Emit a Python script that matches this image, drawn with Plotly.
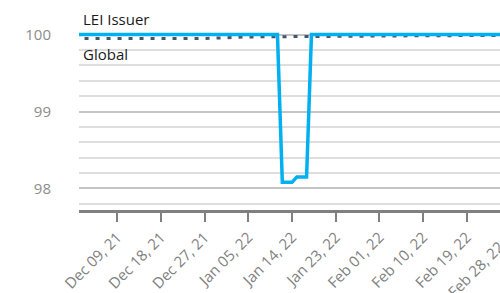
import plotly.graph_objects as go
import pandas as pd

# ---- data ----
lei_dates = ["2021-11-30", "2022-01-11", "2022-01-12", "2022-01-14", "2022-01-15",
             "2022-01-17", "2022-01-18", "2022-02-28"]
lei_values = [100, 100, 98.08, 98.08, 98.15, 98.15, 100, 100]

global_dates = ["2021-11-30", "2021-12-27", "2022-01-05", "2022-01-23", "2022-02-10", "2022-02-28"]
global_values = [99.95, 99.95, 99.97, 99.98, 99.985, 99.99]

tick_dates = ["2021-12-09", "2021-12-18", "2021-12-27", "2022-01-05", "2022-01-14",
              "2022-01-23", "2022-02-01", "2022-02-10", "2022-02-19", "2022-02-28"]

x_start = pd.Timestamp("2021-12-01 03:00")
x_end = pd.Timestamp("2022-02-25 20:00")

fig = go.Figure()
fig.add_trace(go.Scatter(x=global_dates, y=global_values, mode="lines",
                         line=dict(color="#44546a", width=3, dash="4px,7px"),
                         name="Global"))
fig.add_trace(go.Scatter(x=lei_dates, y=lei_values, mode="lines",
                         line=dict(color="#00b0f0", width=3.5),
                         name="LEI Issuer"))

in_range = [d for d in tick_dates if x_start <= pd.Timestamp(d) <= x_end]
out_range = [d for d in tick_dates if pd.Timestamp(d) > x_end]

grey = "#808080"
font_family = "Open Sans"

fig.update_layout(
    width=500, height=293,
    margin=dict(l=79, r=0, t=30, b=83),
    paper_bgcolor="white", plot_bgcolor="white",
    showlegend=False,
    font=dict(family=font_family),
    xaxis=dict(
        range=[x_start, x_end],
        automargin=False,
        tickvals=in_range,
        tickformat="%b %d, %y",
        tickangle=-45,
        tickfont=dict(size=15, color=grey, family=font_family),
        showgrid=False,
        showline=True, linecolor=grey, linewidth=2.5,
        ticks="outside", ticklen=9, tickwidth=2, tickcolor=grey,
        ticklabelstandoff=1,
        zeroline=False,
    ),
    yaxis=dict(
        range=[97.72, 100.06],
        automargin=False,
        tickvals=[98, 99, 100],
        tickfont=dict(size=15, color="#8c8c8c", family=font_family),
        showgrid=True, gridcolor="#c4c4c4", gridwidth=1.5,
        minor=dict(dtick=0.2, tick0=98, showgrid=True, gridcolor="#dedede", gridwidth=1.5),
        ticks="outside", ticklen=24, tickcolor="rgba(0,0,0,0)",
        showline=False, zeroline=False,
    ),
)

span = (x_end - x_start).total_seconds()
for d in out_range:
    px_ = (pd.Timestamp(d) - x_start).total_seconds() / span
    fig.add_annotation(x=px_, y=-0.135, xref="paper", yref="paper",
                       text=pd.Timestamp(d).strftime("%b %d, %y"), textangle=-45,
                       showarrow=False, xanchor="right", yanchor="top",
                       font=dict(size=15, color=grey, family=font_family))

fig.add_annotation(x=0.005, y=100.0, xref="paper", yref="y", text="LEI Issuer",
                   showarrow=False, xanchor="left", yanchor="bottom", yshift=4,
                   font=dict(size=15, color="#1a1a1a", family=font_family))
fig.add_annotation(x=0.005, y=100.0, xref="paper", yref="y", text="Global",
                   showarrow=False, xanchor="left", yanchor="top", yshift=-7,
                   font=dict(size=15, color="#1a1a1a", family=font_family))

fig.write_html(
    "out.html",
    config={"displayModeBar": False},
    post_script="document.body.style.margin='0';document.body.style.overflow='hidden';"
                "document.documentElement.style.overflow='hidden';",
)
